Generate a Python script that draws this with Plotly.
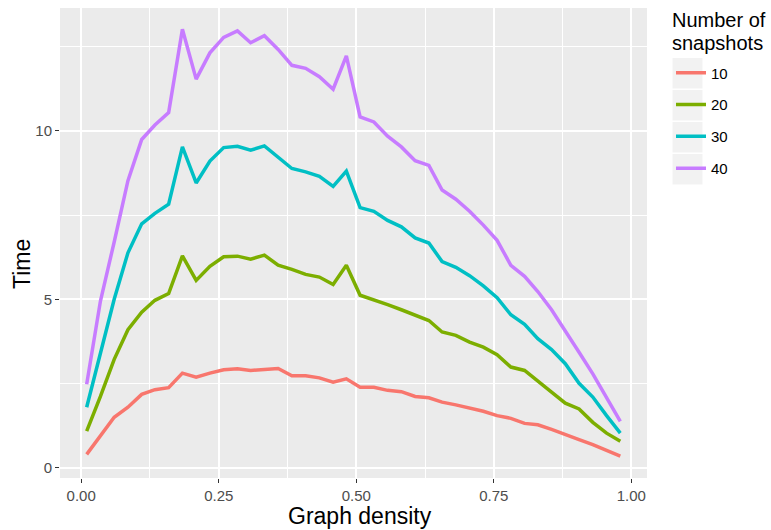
import plotly.graph_objects as go

# Graph density values (x) shared by every series
density = [0.010, 0.035, 0.060, 0.085, 0.110, 0.134, 0.159, 0.184, 0.209, 0.234,
           0.259, 0.284, 0.308, 0.333, 0.358, 0.383, 0.408, 0.433, 0.458, 0.482,
           0.507, 0.532, 0.557, 0.582, 0.607, 0.632, 0.656, 0.681, 0.706, 0.731,
           0.756, 0.781, 0.806, 0.830, 0.855, 0.880, 0.905, 0.930, 0.955, 0.980]

time_10 = [0.40, 0.95, 1.50, 1.80, 2.18, 2.32, 2.38, 2.81, 2.69, 2.81,
           2.91, 2.94, 2.89, 2.92, 2.95, 2.73, 2.73, 2.67, 2.54, 2.64,
           2.39, 2.39, 2.30, 2.26, 2.12, 2.08, 1.95, 1.87, 1.78, 1.68,
           1.55, 1.47, 1.32, 1.28, 1.14, 0.98, 0.84, 0.69, 0.51, 0.35]

time_20 = [1.09, 2.12, 3.22, 4.10, 4.62, 4.97, 5.17, 6.29, 5.56, 5.98,
           6.26, 6.28, 6.19, 6.31, 6.01, 5.89, 5.74, 5.66, 5.44, 6.01,
           5.12, 4.99, 4.84, 4.69, 4.52, 4.37, 4.03, 3.93, 3.73, 3.58,
           3.36, 2.99, 2.89, 2.56, 2.25, 1.92, 1.75, 1.35, 1.03, 0.79]

time_30 = [1.80, 3.45, 5.00, 6.38, 7.24, 7.55, 7.82, 9.52, 8.45, 9.10,
           9.50, 9.54, 9.42, 9.55, 9.23, 8.88, 8.78, 8.65, 8.35, 8.80,
           7.72, 7.61, 7.34, 7.15, 6.82, 6.67, 6.12, 5.95, 5.70, 5.40,
           5.05, 4.54, 4.26, 3.83, 3.51, 3.09, 2.51, 2.10, 1.55, 1.03]

time_40 = [2.48, 4.95, 6.70, 8.52, 9.74, 10.17, 10.54, 13.01, 11.53, 12.31,
           12.77, 12.96, 12.61, 12.82, 12.41, 11.94, 11.85, 11.60, 11.23, 12.22,
           10.41, 10.26, 9.84, 9.52, 9.11, 8.97, 8.24, 7.97, 7.61, 7.20,
           6.75, 6.01, 5.68, 5.23, 4.69, 4.08, 3.43, 2.79, 2.10, 1.38]

snapshot_labels = ["10", "20", "30", "40"]
series = [time_10, time_20, time_30, time_40]
colors = ["#F8766D", "#7CAE00", "#00BFC4", "#C77CFF"]
legend_title_lines = ["Number of", "snapshots"]

x_ticks = [0.00, 0.25, 0.50, 0.75, 1.00]
x_tick_text = ["0.00", "0.25", "0.50", "0.75", "1.00"]
y_ticks = [0, 5, 10]
y_tick_text = ["0", "5", "10"]

FONT = "Liberation Sans, Arial, sans-serif"
W, H = 771, 530
ML, MR, MT, MB = 60, 124, 8, 52
PW, PH = W - ML - MR, H - MT - MB

fig = go.Figure()
for label, values, color in zip(snapshot_labels, series, colors):
    fig.add_trace(go.Scatter(
        x=density, y=values, mode="lines", name=label,
        legendgroup=label,
        line=dict(color=color, width=3.5),
    ))

axis_common = dict(
    showline=False, zeroline=False,
    showgrid=True, gridcolor="white", gridwidth=1.6,
    ticks="outside", ticklen=4, tickwidth=1.1, tickcolor="#333333",
    tickfont=dict(family=FONT, size=15, color="#4D4D4D"),
)

fig.update_xaxes(
    range=[-0.0385, 1.0285], tickvals=x_ticks, ticktext=x_tick_text,
    minor=dict(dtick=0.125, tick0=0, showgrid=True, gridcolor="white",
               gridwidth=0.8, ticks=""),
    **axis_common,
)
fig.update_yaxes(
    range=[-0.30, 13.64], tickvals=y_ticks, ticktext=y_tick_text,
    minor=dict(dtick=2.5, tick0=0, showgrid=True, gridcolor="white",
               gridwidth=0.8, ticks=""),
    **axis_common,
)


def px_to_paper_x(px):
    return (px - ML) / PW


def px_to_paper_y(py):
    return (H - MB - py) / PH


# Axis titles
fig.add_annotation(
    text="Graph density", xref="paper", yref="paper",
    x=px_to_paper_x(360), y=px_to_paper_y(516), xanchor="center", yanchor="middle",
    showarrow=False, font=dict(family=FONT, size=23, color="black"),
)
fig.add_annotation(
    text="Time", xref="paper", yref="paper", textangle=-90,
    x=px_to_paper_x(22), y=px_to_paper_y(264), xanchor="center", yanchor="middle",
    showarrow=False, font=dict(family=FONT, size=23, color="black"),
)

# Legend title, two tightly spaced lines
for line_text, cy in zip(legend_title_lines, [19.5, 42.5]):
    fig.add_annotation(
        text=line_text, xref="paper", yref="paper",
        x=px_to_paper_x(671), y=px_to_paper_y(cy), xanchor="left", yanchor="middle",
        showarrow=False, borderpad=0,
        font=dict(family=FONT, size=20, color="black"),
    )

# Grey key backgrounds behind the legend symbols
for i in range(4):
    top = 58 + i * 32
    fig.add_shape(
        type="rect", xref="paper", yref="paper", layer="above",
        x0=px_to_paper_x(672.5), x1=px_to_paper_x(702.5),
        y0=px_to_paper_y(top + 30.5), y1=px_to_paper_y(top),
        fillcolor="#F2F2F2", line=dict(width=0),
    )

fig.update_layout(
    width=W, height=H,
    margin=dict(l=ML, r=MR, t=MT, b=MB, pad=0),
    paper_bgcolor="white", plot_bgcolor="#EBEBEB",
    font=dict(family=FONT, color="black"),
    showlegend=True,
    legend=dict(
        x=px_to_paper_x(671), y=px_to_paper_y(56.5),
        xanchor="left", yanchor="top",
        bgcolor="rgba(0,0,0,0)", borderwidth=0,
        font=dict(family=FONT, size=15, color="black"),
        tracegroupgap=9.3, traceorder="grouped",
    ),
)

fig.write_html("out.html")
